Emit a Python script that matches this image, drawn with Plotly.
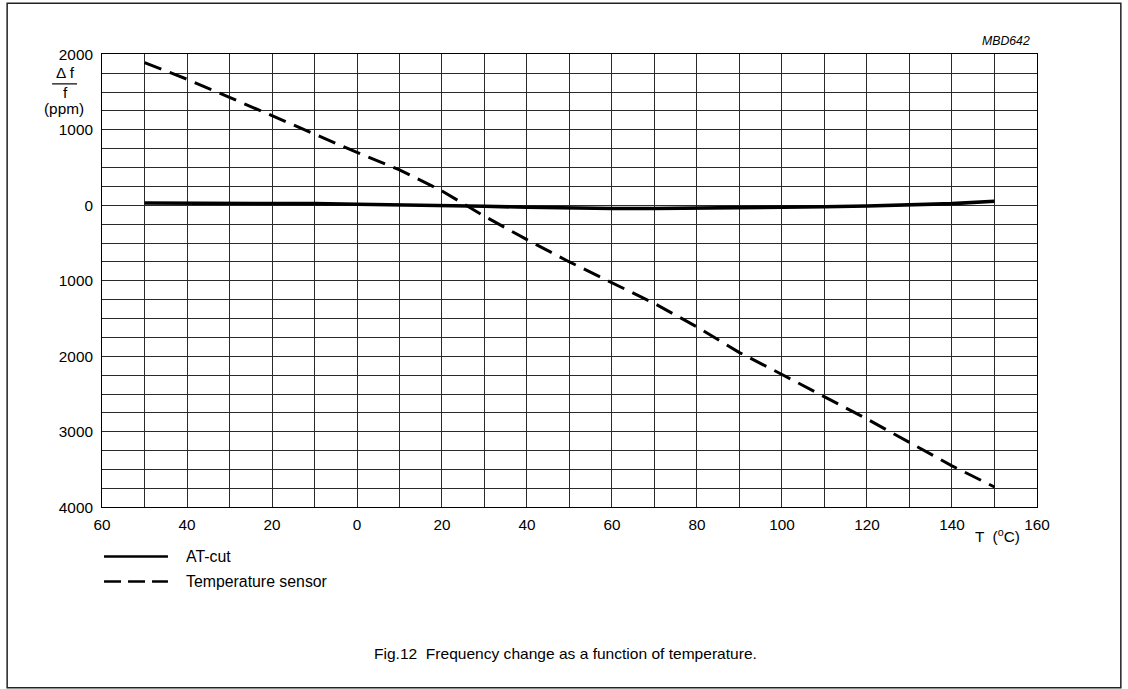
import plotly.graph_objects as go

# The photographed viewport is a little larger than the 1128x689 picture and is
# scaled down to it; the html body keeps its 8px default margin.
SX, SY = 1128 / 1149, 689 / 708
OFF = 8
W, H = 1132, 691
FS = 1 / ((SX + SY) / 2)  # font scale

# ---- data ----
temperature = [-50, -40, -30, -20, -10, 0, 10, 20, 30, 40, 50, 60, 70, 80, 90, 100, 110, 120, 130, 140, 150]
at_cut = [30, 30, 30, 27, 22, 15, 8, 0, -12, -25, -35, -42, -42, -38, -34, -28, -18, -8, 5, 22, 55]
temp_sensor = [1890, 1670, 1430, 1185, 940, 700, 470, 190, -145, -455, -750, -1030, -1300, -1610,
               -1950, -2240, -2530, -2830, -3140, -3450, -3730]

x_tickvals = [-60, -40, -20, 0, 20, 40, 60, 80, 100, 120, 140, 160]
x_ticktext = ["60", "40", "20", "0", "20", "40", "60", "80", "100", "120", "140", "160"]
y_tickvals = [2000, 1000, 0, -1000, -2000, -3000, -4000]
y_ticktext = ["2000", "1000", "0", "1000", "2000", "3000", "4000"]

FONT = "Liberation Sans, Arial, Helvetica, sans-serif"

# plot area in picture pixels
PL, PR, PT, PB = 101, 1037, 55, 507


def px(x):
    return (x / SX - OFF) / W


def py(y):
    return 1 - ((y - 2) / SY - OFF) / H


fig = go.Figure()
fig.add_trace(go.Scatter(x=temperature, y=at_cut, mode="lines", name="AT-cut",
                         line=dict(color="black", width=3.6), showlegend=False))
fig.add_trace(go.Scatter(x=temperature, y=temp_sensor, mode="lines", name="Temperature sensor",
                         line=dict(color="black", width=3, dash="18px,9px"), showlegend=False))

grid_col = "#2a2a2a"
fig.update_xaxes(range=[-60, 160], domain=[px(PL), px(PR)], tickvals=x_tickvals, ticktext=x_ticktext,
                 showgrid=True, gridcolor=grid_col, gridwidth=1,
                 minor=dict(dtick=10, tick0=0, showgrid=True, gridcolor=grid_col, gridwidth=1),
                 showline=True, linecolor="black", linewidth=1, mirror=True, zeroline=False,
                 ticks="", ticklabelstandoff=3,
                 tickfont=dict(family=FONT, size=15 * FS, color="black"))
fig.update_yaxes(range=[-4000, 2000], domain=[py(PB), py(PT)], tickvals=y_tickvals, ticktext=y_ticktext,
                 showgrid=True, gridcolor=grid_col, gridwidth=1,
                 minor=dict(dtick=250, tick0=0, showgrid=True, gridcolor=grid_col, gridwidth=1),
                 showline=True, linecolor="black", linewidth=1, mirror=True, zeroline=False,
                 ticks="", ticklabelstandoff=5,
                 tickfont=dict(family=FONT, size=15 * FS, color="black"))

shapes = [
    # outer frame
    dict(type="rect", xref="paper", yref="paper", x0=px(6), x1=px(1121), y0=py(687), y1=py(4),
         line=dict(color="#222", width=1.5)),
    # fraction bar of y label
    dict(type="line", xref="paper", yref="paper", x0=px(51), x1=px(76), y0=py(84.5), y1=py(84.5),
         line=dict(color="black", width=1.2)),
    # legend samples
    dict(type="line", xref="paper", yref="paper", x0=px(103), x1=px(167), y0=py(556), y1=py(556),
         line=dict(color="black", width=2.5)),
    dict(type="line", xref="paper", yref="paper", x0=px(103), x1=px(167), y0=py(581), y1=py(581),
         line=dict(color="black", width=2.5, dash="17px,7px")),
]

def ann(text, x, y, size=15, xanchor="center", italic=False):
    return dict(text=text, xref="paper", yref="paper", x=px(x), y=py(y), xanchor=xanchor, yanchor="middle",
                showarrow=False, font=dict(family=FONT, size=size * FS, color="black",
                                           style="italic" if italic else "normal"))

annotations = [
    ann("Δ f", 64, 73, 15),
    ann("f", 64, 93, 15),
    ann("(ppm)", 63, 109, 15),
    ann("MBD642", 1032, 42, 12, xanchor="right", italic=True),
    ann("T  (<sup>o</sup>C)", 998, 535, 15),
    ann("AT-cut", 183, 556, 15.5, xanchor="left"),
    ann("Temperature sensor", 183, 581, 15.5, xanchor="left"),
    ann("Fig.12  Frequency change as a function of temperature.", 565, 653, 15.2),
]

fig.update_layout(width=W, height=H, autosize=False, margin=dict(l=0, r=0, t=0, b=0),
                  paper_bgcolor="white", plot_bgcolor="white", showlegend=False,
                  shapes=shapes, annotations=annotations,
                  font=dict(family=FONT, color="black"))

fig.write_html("out.html")
